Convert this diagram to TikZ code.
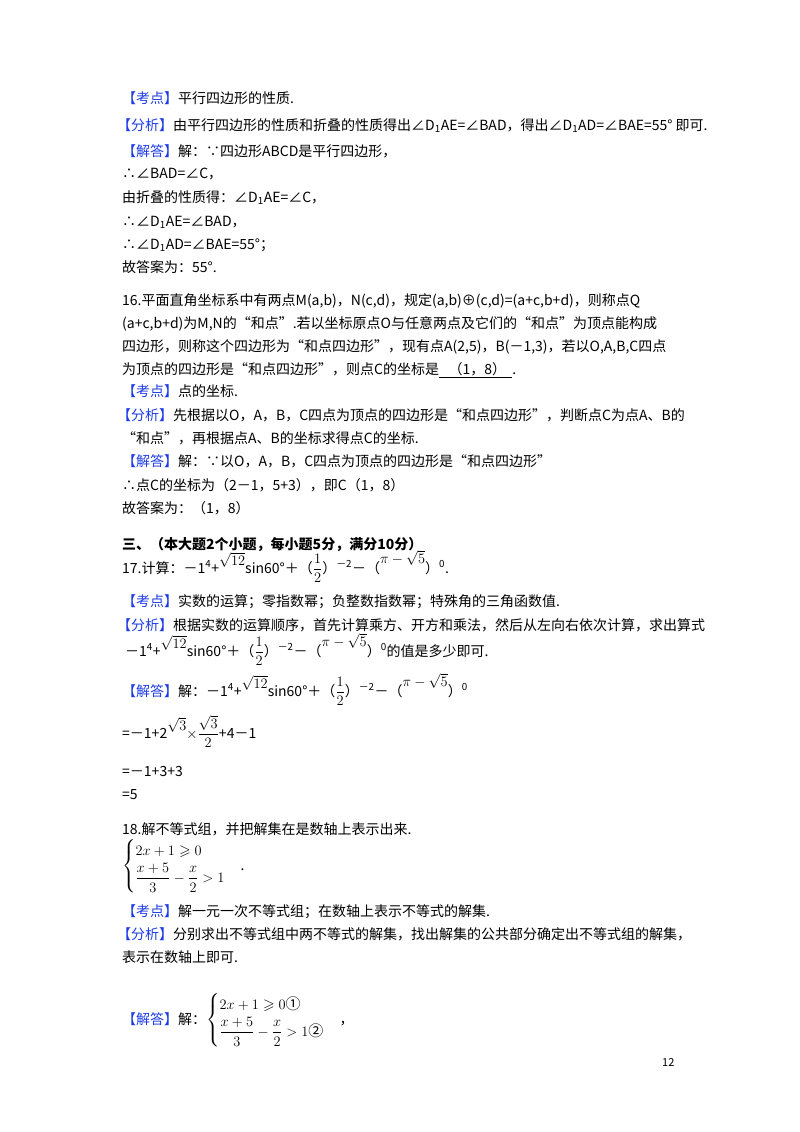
\documentclass[tikz,border=0pt]{standalone}
\usepackage{amsmath,amssymb}
\usepackage{fontspec}
\setmainfont{Noto Sans CJK SC}
\definecolor{kblue}{RGB}{30,60,230}
\newcommand{\kd}[1]{\textcolor{kblue}{【#1】}}
\newcommand{\tl}[3][122]{\node at (#1,#2) {#3};}
\newcommand{\bgm}[1]{{\fontsize{15}{17}\selectfont$#1$}}
\begin{document}
\begin{tikzpicture}[x=1pt,y=-1pt,every node/.style={anchor=base west,inner sep=0pt,font=\fontsize{14}{16}\selectfont}]
\useasboundingbox[fill=white] (0,0) rectangle (800,1132);
\tl{103}{\kd{考点}平行四边形的性质.}
\tl[117]{130}{\kd{分析}由平行四边形的性质和折叠的性质得出∠D\textsubscript{1}AE=∠BAD，得出∠D\textsubscript{1}AD=∠BAE=55°\ 即可.}
\tl{156}{\kd{解答}解：∵四边形ABCD是平行四边形，}
\tl{178}{∴∠BAD=∠C，}
\tl{202}{由折叠的性质得：∠D\textsubscript{1}AE=∠C，}
\tl{226}{∴∠D\textsubscript{1}AE=∠BAD，}
\tl{249}{∴∠D\textsubscript{1}AD=∠BAE=55°；}
\tl{272}{故答案为：55°.}
\tl{305}{16.平面直角坐标系中有两点M(a,b)，N(c,d)，规定(a,b)⊕(c,d)=(a+c,b+d)，则称点Q}
\tl{328}{(a+c,b+d)为M,N的“和点”.若以坐标原点O与任意两点及它们的“和点”为顶点能构成}
\tl{351}{四边形，则称这个四边形为“和点四边形”，现有点A(2,5)，B(－1,3)，若以O,A,B,C四点}
\tl{374}{为顶点的四边形是“和点四边形”，则点C的坐标是\underline{\ \ \ （1，8）\ \ }.}
\tl{396}{\kd{考点}点的坐标.}
\tl[117]{420}{\kd{分析}先根据以O，A，B，C四点为顶点的四边形是“和点四边形”，判断点C为点A、B的}
\tl{443}{“和点”，再根据点A、B的坐标求得点C的坐标.}
\tl{466}{\kd{解答}解：∵以O，A，B，C四点为顶点的四边形是“和点四边形”}
\tl{490}{∴点C的坐标为（2－1，5+3），即C（1，8）}
\tl{513}{故答案为：（1，8）}
\tl{549}{\textbf{三、（本大题2个小题，每小题5分，满分10分）}}
\tl{573}{17.计算：－1\textsuperscript{4}+\raisebox{8pt}{\bgm{\sqrt{12}}}sin60°＋（\bgm{\dfrac{1}{2}}）\textsuperscript{－2}－（\raisebox{10pt}{\bgm{\pi-\sqrt{5}}}）\textsuperscript{0}.}
\tl{606}{\kd{考点}实数的运算；零指数幂；负整数指数幂；特殊角的三角函数值.}
\tl[117]{630}{\kd{分析}根据实数的运算顺序，首先计算乘方、开方和乘法，然后从左向右依次计算，求出算式}
\tl[125]{656}{－1\textsuperscript{4}+\raisebox{8pt}{\bgm{\sqrt{12}}}sin60°＋（\bgm{\dfrac{1}{2}}）\textsuperscript{－2}－（\raisebox{10pt}{\bgm{\pi-\sqrt{5}}}）\textsuperscript{0}的值是多少即可.}
\tl{696}{\kd{解答}解：－1\textsuperscript{4}+\raisebox{8pt}{\bgm{\sqrt{12}}}sin60°＋（\bgm{\dfrac{1}{2}}）\textsuperscript{－2}－（\raisebox{10pt}{\bgm{\pi-\sqrt{5}}}）\textsuperscript{0}}
\tl{738}{=－1+2\raisebox{8pt}{\bgm{\sqrt{3}}}\bgm{\times\dfrac{\sqrt{3}}{2}}+4－1}
\tl{776}{=－1+3+3}
\tl{799}{=5}
\tl{834}{18.解不等式组，并把解集在是数轴上表示出来.}
\tl{870}{\bgm{\begin{cases}2x+1\geqslant0\\[2pt] \dfrac{x+5}{3}-\dfrac{x}{2}>1\end{cases}}.}
\tl{916}{\kd{考点}解一元一次不等式组；在数轴上表示不等式的解集.}
\tl[117]{939}{\kd{分析}分别求出不等式组中两不等式的解集，找出解集的公共部分确定出不等式组的解集，}
\tl{962}{表示在数轴上即可.}
\tl{1024}{\kd{解答}解：\bgm{\begin{cases}2x+1\geqslant0\text{①}\\[2pt] \dfrac{x+5}{3}-\dfrac{x}{2}>1\text{②}\end{cases}}，}
\node[font=\fontsize{11}{13}\selectfont] at (662,1066) {12};
\end{tikzpicture}
\end{document}
